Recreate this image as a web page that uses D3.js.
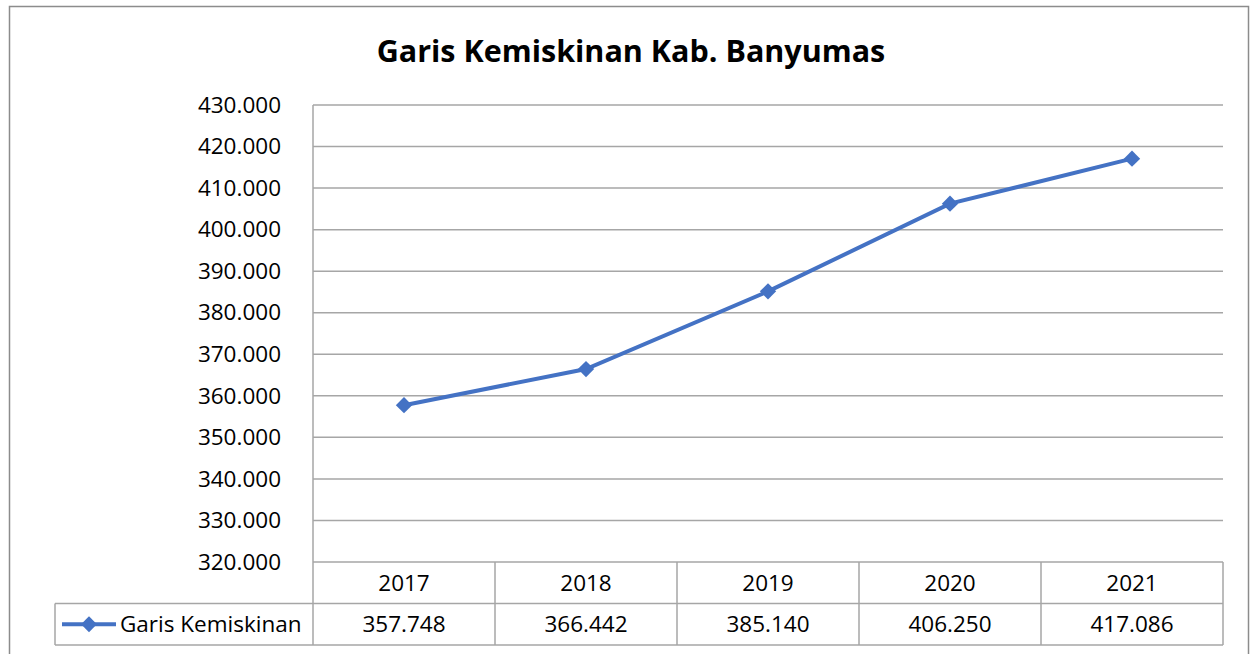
<!DOCTYPE html>
<html>
<head>
<meta charset="utf-8">
<script src="https://cdn.jsdelivr.net/npm/d3@7"></script>
<style>
  body { margin: 0; background: #fff; }
  text { font-family: "Open Sans", "Noto Sans", sans-serif; fill: #000; }
</style>
</head>
<body>
<script>
const years = ["2017", "2018", "2019", "2020", "2021"];
const values = [357748, 366442, 385140, 406250, 417086];
const seriesName = "Garis Kemiskinan";
const title = "Garis Kemiskinan Kab. Banyumas";
const yTicks = [320000, 330000, 340000, 350000, 360000, 370000, 380000, 390000, 400000, 410000, 420000, 430000];

const w = 1254, h = 654;
const plotLeft = 313, plotRight = 1223, plotTop = 105, plotBottom = 562;
const rowH = 41.5;
const legendLeft = 55;
const blue = "#4472c4";
const grid = "#a6a6a6";
const fs = 22.5;

// Indonesian style grouping: 357.748
const idLocale = d3.formatLocale({ decimal: ",", thousands: ".", grouping: [3], currency: ["Rp", ""] });
const fmt = idLocale.format(",d");

const svg = d3.select("body").append("svg")
    .attr("width", w)
    .attr("height", h);

// chart border
svg.append("rect")
    .attr("x", 9.5).attr("y", 6.5)
    .attr("width", 1239).attr("height", 700)
    .attr("fill", "none")
    .attr("stroke", "#8c8c8c")
    .attr("stroke-width", 1.5);

svg.append("text")
    .attr("x", 631)
    .attr("y", 62)
    .attr("text-anchor", "middle")
    .attr("font-size", 30.5)
    .attr("font-weight", "bold")
    .text(title);

const xScale = d3.scaleBand()
    .domain(years)
    .range([plotLeft, plotRight]);

const yScale = d3.scaleLinear()
    .domain([320000, 430000])
    .range([plotBottom, plotTop]);

// gridlines
svg.append("g")
    .selectAll("line")
    .data(yTicks)
    .enter()
    .append("line")
    .attr("x1", plotLeft).attr("x2", plotRight)
    .attr("y1", d => yScale(d)).attr("y2", d => yScale(d))
    .attr("stroke", grid)
    .attr("stroke-width", 1.5);

const yAxis = d3.axisLeft(yScale)
    .tickValues(yTicks)
    .tickFormat(fmt)
    .tickSize(0)
    .tickPadding(32);

svg.append("g")
    .attr("transform", "translate(" + plotLeft + ",0)")
    .call(yAxis)
    .call(g => g.select(".domain").remove())
    .call(g => g.selectAll("text").attr("font-size", fs).attr("font-family", "\"Open Sans\", sans-serif").attr("fill", "#000"));

// table
const tableBottom = plotBottom + 2 * rowH;
const tg = svg.append("g").attr("stroke", grid).attr("stroke-width", 1.5);
tg.append("line").attr("x1", plotLeft).attr("x2", plotLeft).attr("y1", plotTop).attr("y2", tableBottom);
xScale.domain().forEach(y => {
    const x = xScale(y) + xScale.bandwidth();
    tg.append("line").attr("x1", x).attr("x2", x).attr("y1", plotBottom).attr("y2", tableBottom);
});
tg.append("line").attr("x1", legendLeft).attr("x2", plotRight).attr("y1", plotBottom + rowH).attr("y2", plotBottom + rowH);
tg.append("line").attr("x1", legendLeft).attr("x2", plotRight).attr("y1", tableBottom).attr("y2", tableBottom);
tg.append("line").attr("x1", legendLeft).attr("x2", legendLeft).attr("y1", plotBottom + rowH).attr("y2", tableBottom);

svg.append("g")
    .selectAll("text")
    .data(years)
    .enter()
    .append("text")
    .attr("x", d => xScale(d) + xScale.bandwidth() / 2)
    .attr("y", plotBottom + rowH / 2 + 8)
    .attr("text-anchor", "middle")
    .attr("font-size", fs)
    .text(d => d);

svg.append("g")
    .selectAll("text")
    .data(values)
    .enter()
    .append("text")
    .attr("x", (d, i) => xScale(years[i]) + xScale.bandwidth() / 2)
    .attr("y", plotBottom + rowH * 1.5 + 8)
    .attr("text-anchor", "middle")
    .attr("font-size", fs)
    .text(d => fmt(d));

// legend key
const ly = plotBottom + rowH * 1.5;
svg.append("line")
    .attr("x1", 62).attr("x2", 116)
    .attr("y1", ly).attr("y2", ly)
    .attr("stroke", blue).attr("stroke-width", 4);
svg.append("path")
    .attr("d", d3.symbol(d3.symbolDiamond2, 160)())
    .attr("transform", "translate(89," + ly + ")")
    .attr("fill", blue);
svg.append("text")
    .attr("x", 120)
    .attr("y", ly + 8)
    .attr("font-size", fs)
    .text(seriesName);

// series
const line = d3.line()
    .x((d, i) => xScale(years[i]) + xScale.bandwidth() / 2)
    .y(d => yScale(d));

svg.append("path")
    .datum(values)
    .attr("d", line)
    .attr("fill", "none")
    .attr("stroke", blue)
    .attr("stroke-width", 4);

svg.append("g")
    .selectAll("path")
    .data(values)
    .enter()
    .append("path")
    .attr("d", d3.symbol(d3.symbolDiamond2, 170)())
    .attr("transform", (d, i) => "translate(" + (xScale(years[i]) + xScale.bandwidth() / 2) + "," + yScale(d) + ")")
    .attr("fill", blue);
</script>
</body>
</html>
